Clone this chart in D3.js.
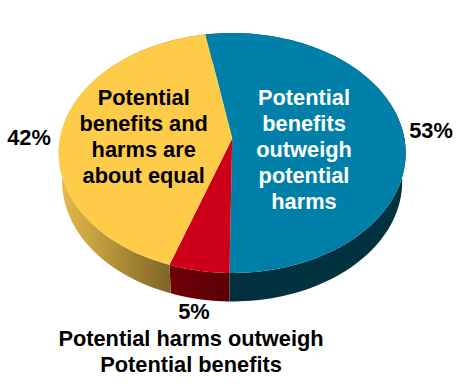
<!DOCTYPE html>
<html><head><meta charset="utf-8">
<script src="https://cdn.jsdelivr.net/npm/d3@7/dist/d3.min.js"></script>
<style>html,body{margin:0;background:#fff}svg{display:block}text{font-family:"Liberation Sans",Arial,sans-serif;font-weight:700}</style>
</head><body><svg id="c" width="467" height="386"></svg>
<script>
const categories = ["Potential benefits outweigh potential harms", "Potential harms outweigh Potential benefits", "Potential benefits and harms are about equal"];
const values = [53, 5, 42];
const topColors = ["#0080A8", "#CC0019", "#FFCC49"];
const wallStops = [["#02303E", "#02323F"], ["#6E0008", "#5A0006"], ["#E8BC4A", "#7F6529"]];

const svg = d3.select("#c");
const apex = [232.2, 138.5], a = 172.2, b = 118.2, k = 0.121, depth = 28.5, baseScale = 0.98;
const startDeg = -10;
const rad = d => d * Math.PI / 180;
// perspective view of a flat disc: the near edge (v = 1) is drawn larger
const project = t => { const u = Math.sin(t), v = -Math.cos(t), w = 1 - k * v;
  return [apex[0] + a * u / w, apex[1] + b * v / w]; };
const line = d3.line();
const pie = d3.pie().sort(null).startAngle(rad(startDeg)).endAngle(rad(startDeg) + 2 * Math.PI);
const arcs = pie(values);
const samples = s => d3.range(0, 121).map(i => s.startAngle + (s.endAngle - s.startAngle) * i / 120);

const defs = svg.append("defs");
arcs.forEach((s, i) => {
  const xs = samples(s).map(t => project(t)[0]);
  const front = samples(s).filter(t => Math.cos(t) < 0.05).map(t => project(t)[0]);
  const g = defs.append("linearGradient").attr("id", "w" + i).attr("gradientUnits", "userSpaceOnUse")
    .attr("x1", d3.min(front.length ? front : xs)).attr("x2", d3.max(front.length ? front : xs)).attr("y1", 0).attr("y2", 0);
  g.append("stop").attr("offset", 0).attr("stop-color", wallStops[i][0]);
  g.append("stop").attr("offset", 1).attr("stop-color", wallStops[i][1]);
});

// side wall: the lower rim sits slightly further from the eye, so it is a little narrower
svg.append("g").selectAll("path").data(arcs).join("path")
  .attr("fill", (d, i) => `url(#w${i})`)
  .attr("d", s => { const p = samples(s).map(project);
    const base = p.slice().reverse().map(q => [apex[0] + (q[0] - apex[0]) * baseScale, q[1] + depth]);
    return line(p.concat(base)) + "Z"; });
// top face
svg.append("g").selectAll("path").data(arcs).join("path")
  .attr("fill", (d, i) => topColors[i])
  .attr("d", s => line([apex].concat(samples(s).map(project))) + "Z");

const fs = 21.8;
function block(lines, x, y0, fill, step) {
  lines.forEach((t, i) => svg.append("text").attr("x", x).attr("y", y0 + i * step)
    .attr("text-anchor", "middle").attr("font-size", fs).attr("fill", fill).text(t));
}
block(["Potential", "benefits", "outweigh", "potential", "harms"], 304, 105, "#fff", 26);
block(["Potential", "benefits and", "harms are", "about equal"], 143.7, 105, "#000", 26);
block(["Potential harms outweigh", "Potential benefits"], 191, 346, "#000", 26);
block([values[0] + "%"], 431, 138, "#000", 0);
block([values[2] + "%"], 29, 145, "#000", 0);
block([values[1] + "%"], 194, 319, "#000", 0);
</script></body></html>
